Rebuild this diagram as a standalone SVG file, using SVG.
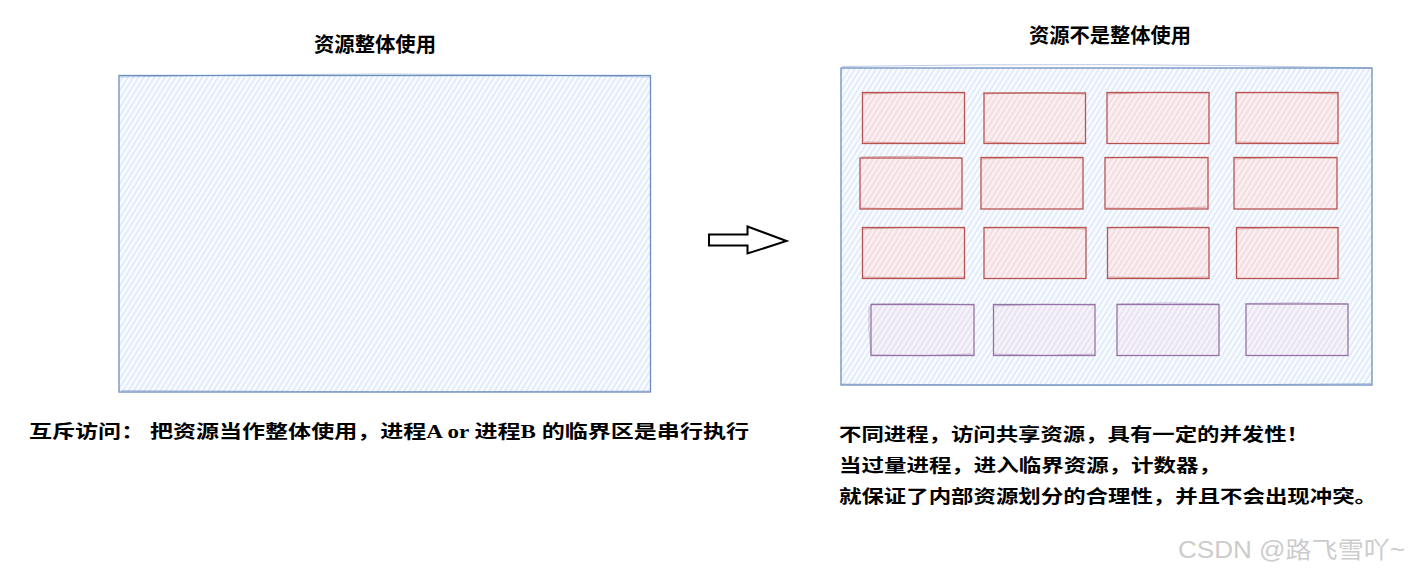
<svg xmlns="http://www.w3.org/2000/svg" width="1409" height="572" viewBox="0 0 1409 572">
  <defs>
    <pattern id="hatchBlue" width="4.5" height="10" patternUnits="userSpaceOnUse" patternTransform="rotate(32)">
      <rect width="4.5" height="10" fill="#f8fbff"/>
      <line x1="1" y1="0" x2="1" y2="10" stroke="#dde8f9" stroke-width="1.5"/>
    </pattern>
    <pattern id="hatchRed" width="4.5" height="10" patternUnits="userSpaceOnUse" patternTransform="rotate(32)">
      <rect width="4.5" height="10" fill="#f9eff2"/>
      <line x1="1" y1="0" x2="1" y2="10" stroke="#f3d9db" stroke-width="1.5"/>
    </pattern>
    <pattern id="hatchPurple" width="4.5" height="10" patternUnits="userSpaceOnUse" patternTransform="rotate(32)">
      <rect width="4.5" height="10" fill="#f5f2f9"/>
      <line x1="1" y1="0" x2="1" y2="10" stroke="#e6e0ef" stroke-width="1.5"/>
    </pattern>
  </defs>
  <style>
    .big { fill: url(#hatchBlue); stroke: #6c8ebf; stroke-width: 1.3; }
    .bigsk { fill: none; stroke: #6c8ebf; stroke-width: 1; opacity: 0.45; }
    .red { fill: url(#hatchRed); stroke: #b85450; stroke-width: 1.3; }
    .redsk { fill: none; stroke: #b85450; stroke-width: 1; opacity: 0.45; }
    .pur { fill: url(#hatchPurple); stroke: #9673a6; stroke-width: 1.3; }
    .pursk { fill: none; stroke: #9673a6; stroke-width: 1; opacity: 0.45; }
    .title { font-family: "Noto Sans CJK SC", "Liberation Sans", sans-serif; font-weight: bold; font-size: 20px; fill: #000; text-anchor: middle; }
    .note { font-family: "Liberation Serif", "Noto Sans CJK SC", serif; font-weight: bold; font-size: 18px; fill: #000; }
    .wm { font-family: "Liberation Sans", "Noto Sans CJK SC", sans-serif; font-size: 23px; fill: #cccccc; }
    .arrow { fill: #ffffff; stroke: #000; stroke-width: 2; stroke-linejoin: miter; }
  </style>

  <g id="title-left">
    <text class="title" x="375" y="52" textLength="122" lengthAdjust="spacingAndGlyphs">资源整体使用</text>
  </g>
  <g id="title-right">
    <text class="title" x="1110" y="43" textLength="162" lengthAdjust="spacingAndGlyphs">资源不是整体使用</text>
  </g>

  <g id="resource-whole">
    <rect class="big" x="119" y="75.5" width="531.5" height="316.5"/>
    <path class="bigsk" d="M120 77 Q385 71 650 77 M121 390.5 Q385 393 649 391"/>
  </g>

  <g id="arrow">
    <polygon class="arrow" points="709,234.5 747.5,234.5 747.5,226.5 786.5,241 747.5,253.5 747.5,245.5 709,245.5"/>
  </g>

  <g id="resource-split">
    <rect class="big" x="841" y="68" width="531" height="317"/>
    <path class="bigsk" d="M842 66.5 Q1105 62 1371 68 M842 384 Q1105 387 1371 383.5"/>
  </g>

  <g id="r1c1"><rect class="red" x="862.5" y="92.5" width="102" height="51"/><path class="redsk" d="M863 94 Q913 91 964 93 M864 142 Q913 144 963 142"/></g>
  <g id="r1c2"><rect class="red" x="984" y="93" width="101.5" height="50.5"/><path class="redsk" d="M983 94 Q1034 91 1085 94 M985 142 Q1034 145 1084 142"/></g>
  <g id="r1c3"><rect class="red" x="1107" y="92.5" width="102" height="51"/><path class="redsk" d="M1107 94 Q1158 91 1208 93"/></g>
  <g id="r1c4"><rect class="red" x="1236" y="92.5" width="102" height="51"/><path class="redsk" d="M1236 93 Q1287 91 1338 94 M1237 142 Q1287 144 1337 142"/></g>

  <g id="r2c1"><rect class="red" x="860" y="158" width="102" height="51"/><path class="redsk" d="M861 157 Q911 155 961 158 M860 208 Q911 210 962 208"/></g>
  <g id="r2c2"><rect class="red" x="981" y="157.5" width="102" height="51.5"/><path class="redsk" d="M981 159 Q1032 156 1083 158"/></g>
  <g id="r2c3"><rect class="red" x="1105" y="157.5" width="103" height="51.5"/><path class="redsk" d="M1105 158 Q1156 155 1207 158 M1106 208 Q1156 210 1207 207"/></g>
  <g id="r2c4"><rect class="red" x="1234" y="157.5" width="103" height="51.5"/><path class="redsk" d="M1234 159 Q1285 156 1336 158"/></g>

  <g id="r3c1"><rect class="red" x="862.5" y="227.5" width="102" height="51"/><path class="redsk" d="M863 229 Q913 226 964 228 M862 277 Q913 279 964 277"/></g>
  <g id="r3c2"><rect class="red" x="984" y="227.5" width="102" height="51"/><path class="redsk" d="M984 228 Q1035 226 1086 229"/></g>
  <g id="r3c3"><rect class="red" x="1107.5" y="227.5" width="101.5" height="51"/><path class="redsk" d="M1108 228 Q1158 225 1209 228 M1108 277 Q1158 279 1208 277"/></g>
  <g id="r3c4"><rect class="red" x="1236.5" y="227.5" width="101.5" height="51"/><path class="redsk" d="M1237 229 Q1287 226 1338 228"/></g>

  <g id="p1"><rect class="pur" x="871" y="304.5" width="103" height="51"/><path class="pursk" d="M871 304 Q922 302 973 305 M871 355 Q922 357 973 354 M869 306 Q868 330 871 354"/></g>
  <g id="p2"><rect class="pur" x="993.5" y="304.5" width="101.5" height="51"/><path class="pursk" d="M994 306 Q1044 303 1095 305 M994 354 Q1044 357 1094 354"/></g>
  <g id="p3"><rect class="pur" x="1117" y="304.5" width="102" height="51"/><path class="pursk" d="M1117 304 Q1168 302 1219 304"/></g>
  <g id="p4"><rect class="pur" x="1246" y="304" width="102" height="51.5"/><path class="pursk" d="M1246 303.5 Q1297 302 1348 304"/></g>

  <g id="note-left">
    <text class="note" x="29" y="438" textLength="720" lengthAdjust="spacingAndGlyphs">互斥访问： 把资源当作整体使用，进程A or 进程B 的临界区是串行执行</text>
  </g>
  <g id="note-right">
    <text class="note" x="839" y="441" textLength="470" lengthAdjust="spacingAndGlyphs">不同进程，访问共享资源，具有一定的并发性！</text>
    <text class="note" x="839" y="472" textLength="382" lengthAdjust="spacingAndGlyphs">当过量进程，进入临界资源，计数器，</text>
    <text class="note" x="839" y="503" textLength="538" lengthAdjust="spacingAndGlyphs">就保证了内部资源划分的合理性，并且不会出现冲突。</text>
  </g>

  <g id="watermark">
    <text class="wm" x="1178" y="558" textLength="227" lengthAdjust="spacingAndGlyphs">CSDN @路飞雪吖~</text>
  </g>
</svg>
